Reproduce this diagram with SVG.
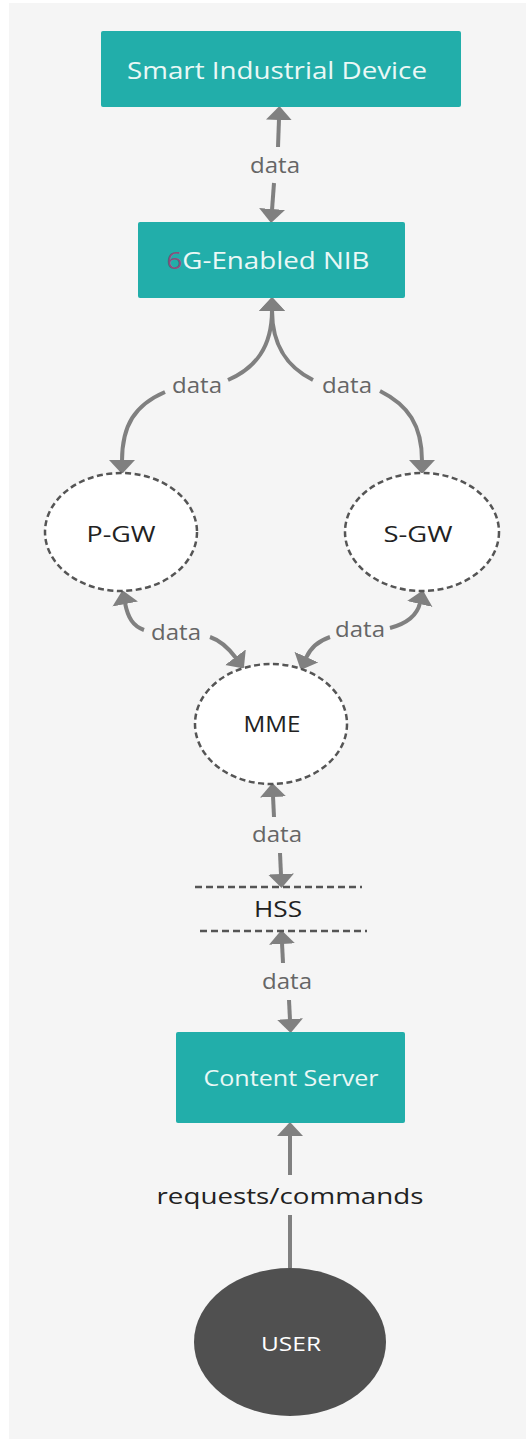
<svg xmlns="http://www.w3.org/2000/svg" width="526" height="1439" viewBox="0 0 526 1439">
<defs>
<style>
.box{fill:#22aeaa;}
.boxtxt{font-family:"Open Sans","Noto Sans",sans-serif;fill:#eaf8f6;text-anchor:middle;}
.ell{fill:#ffffff;stroke:#555555;stroke-width:2.5;stroke-dasharray:6 3.5;}
.ntxt{font-family:"Open Sans","Noto Sans",sans-serif;fill:#222222;text-anchor:middle;}
.con{fill:none;stroke:#808080;stroke-width:4;}
.lbl{font-family:"Open Sans","Noto Sans",sans-serif;font-size:21px;fill:#666666;text-anchor:middle;}
.hss{stroke:#555555;stroke-width:2.5;stroke-dasharray:7 4;}
</style>
<marker id="ah" viewBox="0 0 14 26" refX="1" refY="13" markerWidth="14" markerHeight="26" markerUnits="userSpaceOnUse" orient="auto-start-reverse">
<path d="M0,0 L14,13 L0,26 z" fill="#808080"/>
</marker>
</defs>
<rect x="9" y="3" width="517" height="1436" fill="#f5f5f5"/>

<g id="connectors">
<path class="con" d="M279,119 L278,147" marker-start="url(#ah)"/>
<path class="con" d="M274,183 L272,210" marker-end="url(#ah)"/>
<path class="con" d="M272,310 C272,348 255,368 228,380" marker-start="url(#ah)"/>
<path class="con" d="M165,392 C135,405 122,425 122,461" marker-end="url(#ah)"/>
<path class="con" d="M272,310 C272,348 289,368 313,380" marker-start="url(#ah)"/>
<path class="con" d="M380,391 C408,405 422,425 422,461" marker-end="url(#ah)"/>
<path class="con" d="M125,603 C128,618 133,626 144,630" marker-start="url(#ah)"/>
<path class="con" d="M210,637 C222,641 230,650 236,658" marker-end="url(#ah)"/>
<path class="con" d="M420,603 C417,616 405,624 390,628" marker-start="url(#ah)"/>
<path class="con" d="M330,637 C318,641 310,649 306,658" marker-end="url(#ah)"/>
<path class="con" d="M273,796 L274,817" marker-start="url(#ah)"/>
<path class="con" d="M280,853 L281,875" marker-end="url(#ah)"/>
<path class="con" d="M282,943 L283,963" marker-start="url(#ah)"/>
<path class="con" d="M289,1000 L290,1020" marker-end="url(#ah)"/>
<path class="con" d="M290,1135 L290,1175" marker-start="url(#ah)"/>
<path class="con" d="M290,1215 L290,1268"/>
<text class="lbl" x="275" y="173" textLength="50" lengthAdjust="spacingAndGlyphs">data</text>
<text class="lbl" x="197" y="393" textLength="50" lengthAdjust="spacingAndGlyphs">data</text>
<text class="lbl" x="347" y="393" textLength="50" lengthAdjust="spacingAndGlyphs">data</text>
<text class="lbl" x="176" y="640" textLength="50" lengthAdjust="spacingAndGlyphs">data</text>
<text class="lbl" x="360" y="637" textLength="50" lengthAdjust="spacingAndGlyphs">data</text>
<text class="lbl" x="277" y="842" textLength="50" lengthAdjust="spacingAndGlyphs">data</text>
<text class="lbl" x="287" y="989" textLength="50" lengthAdjust="spacingAndGlyphs">data</text>
<text x="290" y="1204" font-family="'Open Sans','Noto Sans',sans-serif" font-size="21" fill="#222222" text-anchor="middle" textLength="267" lengthAdjust="spacingAndGlyphs">requests/commands</text>
</g>

<g id="smart-device">
<rect class="box" x="101" y="31" width="360" height="76" rx="2"/>
<text class="boxtxt" x="277" y="79" font-size="24" textLength="300" lengthAdjust="spacingAndGlyphs">Smart Industrial Device</text>
</g>

<g id="nib">
<rect class="box" x="138" y="222" width="267" height="76" rx="2"/>
<text class="boxtxt" x="268" y="269" font-size="24" textLength="203" lengthAdjust="spacingAndGlyphs"><tspan fill="#8c4f7c">6</tspan>G-Enabled NIB</text>
</g>

<g id="pgw">
<ellipse class="ell" cx="121" cy="532" rx="76" ry="59"/>
<text class="ntxt" x="121" y="542" font-size="22" textLength="69" lengthAdjust="spacingAndGlyphs">P-GW</text>
</g>

<g id="sgw">
<ellipse class="ell" cx="422" cy="532" rx="77" ry="59"/>
<text class="ntxt" x="418" y="542" font-size="22" textLength="69" lengthAdjust="spacingAndGlyphs">S-GW</text>
</g>

<g id="mme">
<ellipse class="ell" cx="271" cy="724" rx="76" ry="60"/>
<text class="ntxt" x="272" y="732" font-size="21" textLength="57" lengthAdjust="spacingAndGlyphs">MME</text>
</g>

<g id="hss">
<line class="hss" x1="195" y1="887" x2="362" y2="887"/>
<line class="hss" x1="200" y1="931" x2="367" y2="931"/>
<text class="ntxt" x="278" y="917" font-size="21" textLength="48" lengthAdjust="spacingAndGlyphs">HSS</text>
</g>

<g id="content-server">
<rect class="box" x="176" y="1032" width="229" height="91" rx="2"/>
<text class="boxtxt" x="291" y="1086" font-size="21" textLength="175" lengthAdjust="spacingAndGlyphs">Content Server</text>
</g>

<g id="user">
<ellipse cx="290" cy="1342" rx="96" ry="74" fill="#505050"/>
<text x="291" y="1351" font-family="'Open Sans','Noto Sans',sans-serif" font-size="20" fill="#ffffff" text-anchor="middle" textLength="60" lengthAdjust="spacingAndGlyphs">USER</text>
</g>
</svg>
